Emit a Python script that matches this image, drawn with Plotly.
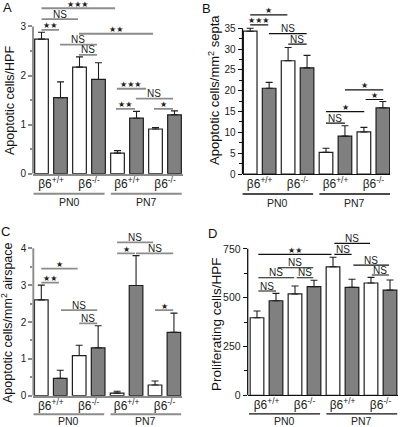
import plotly.graph_objects as go

W, H = 400, 427

# ---------------- data ----------------
ages = ["PN0", "PN7"]
genotypes = ["β6<sup>+/+</sup>", "β6<sup>-/-</sup>", "β6<sup>+/+</sup>", "β6<sup>-/-</sup>"]
bar_positions = [0, 1, 2, 3, 4, 5, 6, 7]
genotype_positions = [0.5, 2.5, 4.5, 6.5]
age_positions = [1.45, 5.5]

A_title = "Apoptotic cells/HPF"
A_values = [2.74, 1.55, 2.17, 1.92, 0.42, 1.13, 0.91, 1.20]
A_errors = [0.14, 0.32, 0.21, 0.34, 0.05, 0.14, 0.03, 0.08]
A_ticks = [0, 1, 2, 3]
A_minor = [0.5, 1.5, 2.5]
A_sig = [(0.0, 3.87, 3.37, "***"), (0.0, 1.92, 3.15, "NS"), (0.0, 0.92, 2.93, "**"),
         (0.97, 2.92, 2.63, "NS"), (1.97, 2.92, 2.42, "NS"), (1.97, 5.87, 2.85, "**"),
         (3.97, 5.5, 1.73, "***"), (4.97, 6.92, 1.53, "NS"), (3.92, 4.92, 1.32, "**"),
         (5.92, 6.92, 1.32, "*")]

B_title = "Apoptotic cells/mm<sup>2</sup> septa"
B_values = [34.3, 20.6, 27.2, 25.5, 5.2, 9.1, 10.1, 15.9]
B_errors = [0.7, 1.4, 3.2, 3.0, 1.0, 2.5, 1.1, 1.5]
B_ticks = [0, 5, 10, 15, 20, 25, 30, 35]
B_minor = [2.5, 7.5, 12.5, 17.5, 22.5, 27.5, 32.5]
B_sig = [(0.0, 1.96, 38.2, "*"), (0.0, 0.95, 35.8, "***"), (0.99, 2.98, 33.7, "NS"),
         (2.01, 2.98, 31.2, "NS"), (5.0, 7.02, 20.2, "*"), (6.09, 7.02, 17.9, "*"),
         (4.0, 6.02, 15.0, "*"), (4.0, 5.0, 12.2, "NS")]

C_title = "Apoptotic cells/mm<sup>2</sup> airspace"
C_values = [2.60, 0.47, 1.09, 1.30, 0.07, 2.99, 0.29, 1.72]
C_errors = [0.40, 0.22, 0.28, 0.60, 0.05, 0.81, 0.11, 0.52]
C_ticks = [0, 1, 2, 3, 4]
C_minor = [0.5, 1.5, 2.5, 3.5]
C_sig = [(0.0, 1.92, 3.45, "*"), (0.0, 0.93, 3.07, "**"), (1.04, 2.95, 2.32, "NS"),
         (2.0, 2.95, 1.96, "NS"), (4.0, 5.9, 4.16, "NS"), (4.0, 4.94, 3.86, "*"),
         (5.0, 6.96, 3.86, "NS"), (6.0, 6.96, 2.32, "*")]

D_title = "Proliferating cells/HPF"
D_values = [397, 484, 519, 556, 658, 553, 575, 539]
D_errors = [35, 38, 41, 33, 49, 41, 29, 51]
D_ticks = [0, 250, 500, 750]
D_minor = [125, 375, 625]
D_sig = [(0.07, 3.92, 722, "**"), (4.07, 5.95, 778, "NS"), (4.07, 4.98, 722, "NS"),
         (1.09, 2.96, 653, "NS"), (0.07, 1.96, 602, "NS"), (2.09, 2.96, 602, "NS"),
         (0.07, 1.0, 534, "NS"), (5.07, 6.95, 667, "NS"), (6.04, 6.95, 616, "NS")]

age_spans = [(-0.42, 3.32), (3.65, 7.38)]

# ---------------- styling / geometry ----------------
FONT = "Liberation Sans, Arial, sans-serif"
STAR_FONT = "DejaVu Sans, sans-serif"
BAR_FILLS = ["white", "#808080"] * 4
OUTLINE = "#1e1e1e"

panels = [
    dict(letter="A", title=A_title, vals=A_values, errs=A_errors, ticks=A_ticks, minor=A_minor, sig=A_sig,
         left=33, right=183, c0=41.5, sp=19, y0=173.7, ppu=49.1, top=0, grp=(20, 28.5),
         line="#8c8c8c", lw=1.6, tfs=12.5, tick_fs=10, letter_xy=(7, 7), title_xy=(10, 101)),
    dict(letter="B", title=B_title, vals=B_values, errs=B_errors, ticks=B_ticks, minor=B_minor, sig=B_sig,
         left=242.5, right=390, c0=250.2, sp=18.95, y0=174, ppu=4.163, top=0, grp=(20, 28.5),
         line="#111111", lw=1.0, tfs=13, tick_fs=10, letter_xy=(207, 8), title_xy=(214, 90)),
    dict(letter="C", title=C_title, vals=C_values, errs=C_errors, ticks=C_ticks, minor=C_minor, sig=C_sig,
         left=33.3, right=181.7, c0=41.3, sp=18.95, y0=395.7, ppu=36.85, top=222, grp=(18.5, 25.5),
         line="#8c8c8c", lw=1.6, tfs=12.5, tick_fs=10, letter_xy=(5, 231), title_xy=(7, 323)),
    dict(letter="D", title=D_title, vals=D_values, errs=D_errors, ticks=D_ticks, minor=D_minor, sig=D_sig,
         left=247.7, right=398, c0=257, sp=19, y0=395.3, ppu=0.1953, top=222, grp=(18.5, 25.5),
         line="#111111", lw=1.0, tfs=13.5, tick_fs=10.5, letter_xy=(212, 233), title_xy=(216, 324)),
]

fig = go.Figure()
shapes = []
annotations = []
layout_axes = {}

for i, p in enumerate(panels):
    n = "" if i == 0 else str(i + 1)
    xa, ya = "x" + n, "y" + n
    xr = [(p["left"] - p["c0"]) / p["sp"], (p["right"] - p["c0"]) / p["sp"]]
    yr = [0, (p["y0"] - p["top"]) / p["ppu"]]
    xdom = [p["left"] / W, p["right"] / W]
    ydom = [1 - p["y0"] / H, 1 - p["top"] / H]

    fig.add_trace(go.Bar(
        x=bar_positions, y=p["vals"], xaxis=xa, yaxis=ya, width=0.72,
        marker=dict(color=BAR_FILLS, line=dict(color=OUTLINE, width=1.2)),
        error_y=dict(type="data", array=p["errs"], arrayminus=[0] * 8, symmetric=False,
                     color=OUTLINE, thickness=1.1, width=3.5),
        showlegend=False, hoverinfo="skip"))

    layout_axes["xaxis" + n] = dict(
        domain=xdom, range=xr, anchor=ya, showgrid=False, zeroline=False, automargin=False,
        showline=True, linecolor=p["line"], linewidth=p["lw"] + 0.3,
        tickmode="array", tickvals=genotype_positions, ticktext=genotypes, ticks="",
        tickfont=dict(family=FONT, size=12, color="#222"), ticklabelstandoff=-2)
    layout_axes["yaxis" + n] = dict(
        domain=ydom, range=yr, anchor=xa, showgrid=False, zeroline=False, showline=False,
        automargin=False,
        tickmode="array", tickvals=p["ticks"], ticks="outside", ticklen=4,
        tickcolor=p["line"], tickwidth=p["lw"],
        tickfont=dict(family=FONT, size=p["tick_fs"], color="#222"),
        minor=dict(tickvals=p["minor"], ticks="outside", ticklen=2.5,
                   tickcolor=p["line"], tickwidth=p["lw"]))

    # y-axis line only up to the top tick
    shapes.append(dict(type="line", xref="paper", yref=ya, x0=xdom[0], x1=xdom[0],
                       y0=0, y1=p["ticks"][-1], line=dict(color=p["line"], width=p["lw"] + 0.3)))

    # age group lines and labels
    gl, gt = p["grp"]
    for (a0, a1), age, apos in zip(age_spans, ages, age_positions):
        yl = 1 - (p["y0"] + gl) / H
        shapes.append(dict(type="line", xref=xa, yref="paper", x0=a0, x1=a1, y0=yl, y1=yl,
                           line=dict(color=p["line"], width=p["lw"] + 0.3)))
        annotations.append(dict(text=age, xref=xa, yref="paper", x=apos, y=1 - (p["y0"] + gt) / H,
                                showarrow=False, xanchor="center", yanchor="middle",
                                font=dict(family=FONT, size=10.5, color="#222")))

    # significance brackets
    for (s0, s1, sy, lab) in p["sig"]:
        shapes.append(dict(type="line", xref=xa, yref=ya, x0=s0, x1=s1, y0=sy, y1=sy,
                           line=dict(color=p["line"], width=p["lw"] + 0.2)))
        if lab == "NS":
            annotations.append(dict(text="NS", xref=xa, yref=ya, x=(s0 + s1) / 2, y=sy,
                                    showarrow=False, yanchor="middle", yshift=5,
                                    font=dict(family=FONT, size=10, color="#222")))
        else:
            annotations.append(dict(text="★" * len(lab), xref=xa, yref=ya, x=(s0 + s1) / 2, y=sy,
                                    showarrow=False, yanchor="middle", yshift=4,
                                    font=dict(family=STAR_FONT, size=8, color="#222")))

    # panel letter and y title
    lx, ly = p["letter_xy"]
    annotations.append(dict(text=p["letter"], xref="paper", yref="paper", x=lx / W, y=1 - ly / H,
                            showarrow=False, xanchor="center", yanchor="middle",
                            font=dict(family=FONT, size=13, color="#111")))
    tx, ty = p["title_xy"]
    annotations.append(dict(text=p["title"], xref="paper", yref="paper", x=tx / W, y=1 - ty / H,
                            showarrow=False, xanchor="center", yanchor="middle", textangle=-90,
                            font=dict(family=FONT, size=p["tfs"], color="#111")))

fig.update_layout(
    width=W, height=H, margin=dict(l=0, r=0, t=0, b=0),
    paper_bgcolor="white", plot_bgcolor="rgba(0,0,0,0)",
    shapes=shapes, annotations=annotations, bargap=0.28, **layout_axes)

fig.write_html("out.html", config={"displayModeBar": False},
               post_script="document.body.style.margin='0px';document.body.style.overflow='hidden';")
